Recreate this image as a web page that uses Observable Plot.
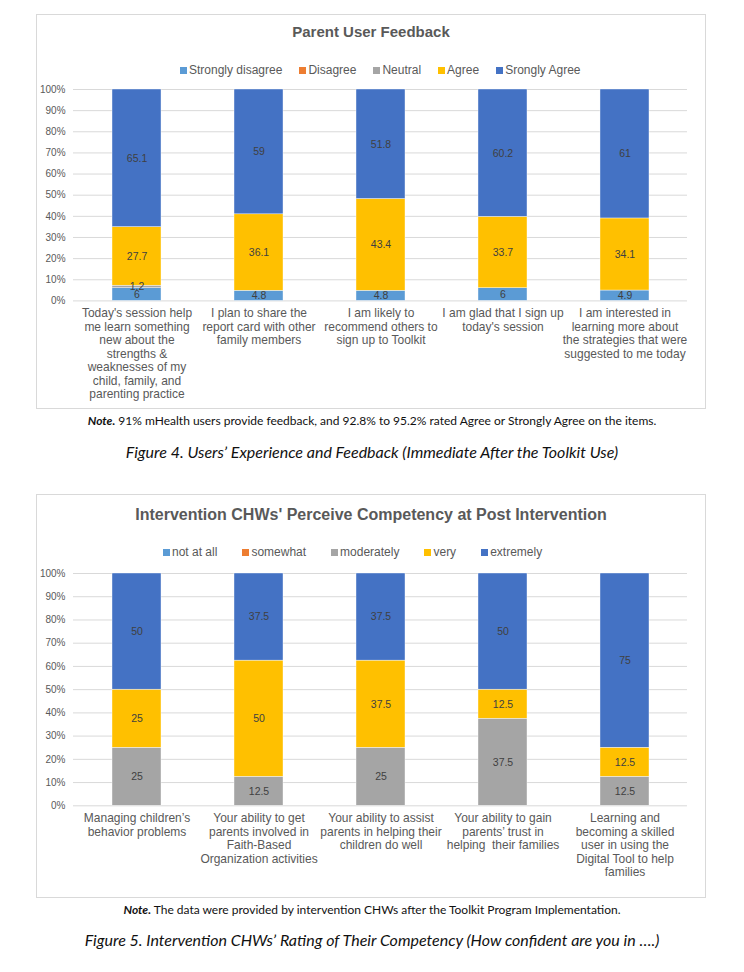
<!DOCTYPE html>
<html><head><meta charset="utf-8">
<script src="https://cdn.jsdelivr.net/npm/d3@7"></script>
<script src="https://cdn.jsdelivr.net/npm/@observablehq/plot@0.6"></script>
<style>
body{margin:0;background:#fff;font-family:"Liberation Sans",Arial,sans-serif;}
#page{position:relative;width:744px;height:972px;overflow:hidden;background:#fff;}
.box{position:absolute;left:36px;width:670px;border:1px solid #d9d9d9;box-sizing:border-box;}
.title{position:absolute;left:36px;width:670px;text-align:center;font-weight:bold;color:#595959;line-height:18px;white-space:nowrap;}
.legend{position:absolute;display:flex;align-items:center;gap:17px;font-size:12px;color:#595959;line-height:14px;white-space:nowrap;}
.legend span.item{display:flex;align-items:center;}
.sw{display:inline-block;width:7px;height:7px;margin-right:2px;}
.plot{position:absolute;left:36px;}
.note{position:absolute;left:0;width:744px;text-align:center;font-family:Lato,"Open Sans",sans-serif;font-size:12px;color:#111;line-height:14px;white-space:nowrap;}
.note b{font-style:italic;}
.caption{position:absolute;left:0;width:744px;text-align:center;font-family:Lato,"Open Sans",sans-serif;font-style:italic;font-size:16px;color:#111;line-height:18px;white-space:nowrap;}
</style>
</head><body>
<div id="page">
  <div class="box" style="top:14px;height:395px;"></div>
  <div class="title" style="top:23px;font-size:15px;">Parent User Feedback</div>
  <div class="legend" id="legend1" style="left:180px;top:63px;"></div>
  <div class="plot" id="plot1" style="top:79px;"></div>
  <div class="note" style="top:414px;"><b>Note.</b> 91% mHealth users provide feedback, and 92.8% to 95.2% rated Agree or Strongly Agree on the items.</div>
  <div class="caption" style="top:443px;">Figure 4. Users’ Experience and Feedback (Immediate After the Toolkit Use)</div>

  <div class="box" style="top:494px;height:404px;"></div>
  <div class="title" style="top:506px;font-size:16px;">Intervention CHWs' Perceive Competency at Post Intervention</div>
  <div class="legend" id="legend2" style="left:163px;top:545px;gap:25px;"></div>
  <div class="plot" id="plot2" style="top:563px;"></div>
  <div class="note" style="top:903px;"><b>Note.</b> The data were provided by intervention CHWs after the Toolkit Program Implementation.</div>
  <div class="caption" style="top:931px;">Figure 5. Intervention CHWs’ Rating of Their Competency (How confident are you in ….)</div>
</div>
<script>
// ---------- Chart 1 data ----------
const items1 = [
  "Today's session help\nme learn something\nnew about the\nstrengths &\nweaknesses of my\nchild, family, and\nparenting practice",
  "I plan to share the\nreport card with other\nfamily members",
  "I am likely to\nrecommend others to\nsign up to Toolkit",
  "I am glad that I sign up\ntoday's session",
  "I am interested in\nlearning more about\nthe strategies that were\nsuggested to me today"
];
const series1 = ["Strongly disagree", "Disagree", "Neutral", "Agree", "Srongly Agree"];
const stronglyDisagree1 = [6, 4.8, 4.8, 6, 4.9];
const disagree1 = [null, null, null, null, null];
const neutral1 = [1.2, null, null, null, null];
const agree1 = [27.7, 36.1, 43.4, 33.7, 34.1];
const stronglyAgree1 = [65.1, 59, 51.8, 60.2, 61];

// ---------- Chart 2 data ----------
const items2 = [
  "Managing children’s\nbehavior problems",
  "Your ability to get\nparents involved in\nFaith-Based\nOrganization activities",
  "Your ability to assist\nparents in helping their\nchildren do well",
  "Your ability to gain\nparents’ trust in\nhelping  their families",
  "Learning and\nbecoming a skilled\nuser in using the\nDigital Tool to help\nfamilies"
];
const series2 = ["not at all", "somewhat", "moderately", "very", "extremely"];
const notAtAll2 = [null, null, null, null, null];
const somewhat2 = [null, null, null, null, null];
const moderately2 = [25, 12.5, 25, 37.5, 12.5];
const very2 = [25, 50, 37.5, 12.5, 12.5];
const extremely2 = [50, 37.5, 37.5, 50, 75];

const colors = ["#5B9BD5", "#ED7D31", "#A5A5A5", "#FFC000", "#4472C4"];
const yTicks = [0, 10, 20, 30, 40, 50, 60, 70, 80, 90, 100];

function buildRows(items, series, columns) {
  const rows = [];
  series.forEach((s, i) => columns[i].forEach((v, j) => {
    if (v != null) rows.push({item: items[j], series: s, value: v});
  }));
  return rows;
}

function legend(id, series) {
  const el = document.getElementById(id);
  series.forEach((s, i) => {
    const it = document.createElement("span");
    it.className = "item";
    it.innerHTML = `<span class="sw" style="background:${colors[i]}"></span>${s}`;
    el.appendChild(it);
  });
}

function chart(items, series, columns, innerH, marginBottom) {
  const rows = buildRows(items, series, columns);
  const stack = {x: "item", y: "value", z: "series", offset: "normalize", order: series};
  return Plot.plot({
    width: 670,
    height: 10 + innerH + marginBottom,
    marginLeft: 37, marginRight: 19, marginTop: 10, marginBottom,
    style: {fontFamily: "'Liberation Sans', Arial, sans-serif", background: "transparent", overflow: "visible"},
    x: {domain: items, paddingInner: 0.6, paddingOuter: 0.3, label: null},
    y: {domain: [0, 1], label: null},
    color: {domain: series, range: colors},
    marks: [
      Plot.ruleY(yTicks, {y: d => d / 100, stroke: "#d9d9d9", strokeWidth: 1}),
      Plot.barY(rows, Plot.stackY({...stack, fill: "series", stroke: "#ffffff", strokeWidth: 0.4})),
      Plot.text(rows, Plot.stackY({...stack, text: d => String(d.value), fill: "#404040", fontSize: 10.5})),
      Plot.axisY(yTicks.map(d => d / 100), {label: null, tickFormat: d => Math.round(d * 100) + "%", tickSize: 0, tickPadding: 8, fontSize: 10, fill: "#595959"}),
      Plot.axisX({label: null, tickSize: 0, tickPadding: 7, fontSize: 12, lineHeight: 1.12, fill: "#595959"})
    ]
  });
}

legend("legend1", series1);
legend("legend2", series2);
document.getElementById("plot1").appendChild(
  chart(items1, series1, [stronglyDisagree1, disagree1, neutral1, agree1, stronglyAgree1], 211.4, 100));
document.getElementById("plot2").appendChild(
  chart(items2, series2, [notAtAll2, somewhat2, moderately2, very2, extremely2], 232.3, 85));
</script>
</body></html>
